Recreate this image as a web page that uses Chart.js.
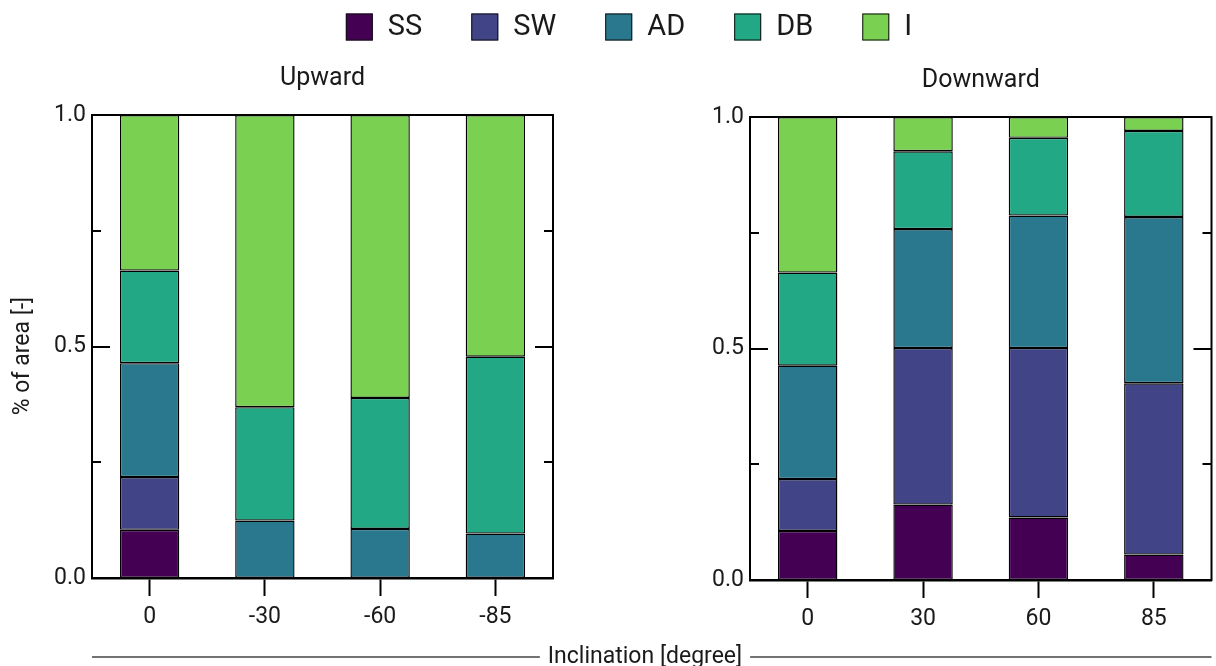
<!DOCTYPE html>
<html>
<head>
<meta charset="utf-8">
<script src="https://cdn.jsdelivr.net/npm/chart.js@4.4.1/dist/chart.umd.min.js"></script>
<style>
  html, body { margin: 0; padding: 0; background: #ffffff; }
  #wrap { position: relative; width: 1216px; height: 666px; }
  #wrap canvas { position: absolute; left: 0; top: 0; }
</style>
</head>
<body>
<div id="wrap">
  <canvas id="upChart" width="1216" height="666"></canvas>
  <canvas id="downChart" width="1216" height="666"></canvas>
</div>
<script>
// ---- data: share of area per failure mode, by inclination ----
const seriesNames  = ['SS', 'SW', 'AD', 'DB', 'I'];
const seriesColors = ['#440154', '#414487', '#2a788e', '#22a884', '#7ad151'];

const upwardCategories = ['0', '-30', '-60', '-85'];
const upwardSS = [0.104, 0.000, 0.000, 0.000];
const upwardSW = [0.114, 0.000, 0.000, 0.000];
const upwardAD = [0.246, 0.124, 0.106, 0.096];
const upwardDB = [0.200, 0.245, 0.283, 0.382];
const upwardI  = [0.336, 0.631, 0.611, 0.522];

const downwardCategories = ['0', '30', '60', '85'];
const downwardSS = [0.106, 0.163, 0.135, 0.055];
const downwardSW = [0.112, 0.338, 0.366, 0.370];
const downwardAD = [0.245, 0.257, 0.286, 0.359];
const downwardDB = [0.201, 0.168, 0.168, 0.186];
const downwardI  = [0.336, 0.074, 0.045, 0.030];

const yMajorTicks = [0, 0.5, 1.0];
const yMinorTicks = [0.25, 0.75];

const FONT = 'Roboto';
const TEXT = '#1a1a1a';

// frame (top + right border) and inward y ticks on both sides
const panelFrame = {
  id: 'panelFrame',
  afterDraw(chart) {
    const { ctx, chartArea: a } = chart;
    const y = chart.scales.y;
    ctx.save();
    ctx.strokeStyle = '#000';
    ctx.lineWidth = 2;
    ctx.beginPath();
    ctx.moveTo(a.left - 1, a.top);
    ctx.lineTo(a.right, a.top);
    ctx.lineTo(a.right, a.bottom + 1);
    ctx.stroke();
    const ticks = yMajorTicks.map(v => [v, 18]).concat(yMinorTicks.map(v => [v, 9]));
    for (const [v, len] of ticks) {
      const py = Math.round(y.getPixelForValue(v));
      ctx.beginPath();
      ctx.moveTo(a.left, py);
      ctx.lineTo(a.left + len, py);
      ctx.moveTo(a.right, py);
      ctx.lineTo(a.right - len, py);
      ctx.stroke();
    }
    ctx.restore();
  }
};

function makeConfig(categories, values, opts) {
  return {
    type: 'bar',
    data: {
      labels: categories,
      datasets: seriesNames.map((name, i) => ({
        label: name,
        data: values[i],
        backgroundColor: seriesColors[i],
        borderColor: '#000000',
        borderWidth: 1.4,
        borderSkipped: false,
        barPercentage: 0.515,
        categoryPercentage: 1.0
      }))
    },
    options: {
      responsive: false,
      animation: false,
      events: [],
      layout: { padding: opts.padding },
      plugins: {
        legend: { display: false },
        tooltip: { enabled: false },
        title: {
          display: true,
          text: opts.title,
          fullSize: false,
          color: TEXT,
          font: { family: FONT, size: 25, weight: 'normal', lineHeight: 1.2 },
          padding: { top: 63.5, bottom: 21.5 }
        }
      },
      scales: {
        x: {
          stacked: true,
          grid: {
            display: true, drawOnChartArea: false, drawTicks: true,
            tickLength: 18, tickWidth: 2, tickColor: '#000', offset: false
          },
          border: { display: true, color: '#000', width: 2.5 },
          ticks: { color: TEXT, font: { family: FONT, size: 23 }, padding: 7, maxRotation: 0 },
          afterFit: s => { s.height = opts.xHeight; }
        },
        y: {
          stacked: true,
          min: 0, max: 1,
          grid: { display: false, drawTicks: false },
          border: { display: true, color: '#000', width: 2 },
          ticks: {
            stepSize: 0.25,
            color: TEXT,
            font: { family: FONT, size: 23 },
            padding: 6,
            callback: v => yMajorTicks.includes(v) ? v.toFixed(1) : ''
          },
          afterFit: s => { s.width = opts.yWidth; }
        }
      }
    },
    plugins: [panelFrame].concat(opts.extra || [])
  };
}

// y-axis title of the left panel
const yTitle = {
  id: 'yTitle',
  afterDraw(chart) {
    const { ctx } = chart;
    ctx.save();
    ctx.fillStyle = TEXT;
    ctx.font = `23px ${FONT}`;
    ctx.textAlign = 'center';
    ctx.textBaseline = 'middle';
    ctx.translate(23, 356);
    ctx.rotate(-Math.PI / 2);
    ctx.fillText('% of area [-]', 0, 0);
    ctx.restore();
  }
};

// shared legend across the top and shared x-axis label with rules
const sharedText = {
  id: 'sharedText',
  afterDraw(chart) {
    const { ctx } = chart;
    const up = Chart.getChart('upChart');
    ctx.save();
    // legend
    const box = 27, gap = 15, itemGap = 49;
    ctx.font = `29px ${FONT}`;
    const widths = seriesNames.map(n => ctx.measureText(n).width);
    const total = widths.reduce((s, w) => s + box + gap + w, 0) + itemGap * (seriesNames.length - 1);
    let x = 629 - total / 2;
    const cy = 27;
    ctx.textBaseline = 'middle';
    ctx.textAlign = 'left';
    seriesNames.forEach((n, i) => {
      ctx.fillStyle = seriesColors[i];
      ctx.fillRect(x, cy - box / 2, box, box);
      ctx.strokeStyle = '#111';
      ctx.lineWidth = 1;
      ctx.strokeRect(x + 0.5, cy - box / 2 + 0.5, box - 1, box - 1);
      ctx.fillStyle = TEXT;
      ctx.fillText(n, x + box + gap, cy + 1);
      x += box + gap + widths[i] + itemGap;
    });
    // x-axis label spanning both panels
    const label = 'Inclination [degree]';
    ctx.font = `23px ${FONT}`;
    const tw = ctx.measureText(label).width;
    const cx = 645, ly = 657;
    ctx.fillStyle = TEXT;
    ctx.textAlign = 'center';
    ctx.fillText(label, cx, ly);
    ctx.strokeStyle = '#444';
    ctx.lineWidth = 1.5;
    ctx.beginPath();
    ctx.moveTo(up.chartArea.left, ly);
    ctx.lineTo(cx - tw / 2 - 8, ly);
    ctx.moveTo(cx + tw / 2 + 8, ly);
    ctx.lineTo(chart.chartArea.right, ly);
    ctx.stroke();
    ctx.restore();
  }
};

new Chart(document.getElementById('upChart'), makeConfig(
  upwardCategories,
  [upwardSS, upwardSW, upwardAD, upwardDB, upwardI],
  { title: 'Upward', padding: { left: 0, right: 663, top: 0, bottom: 0 }, yWidth: 92, xHeight: 88, extra: [yTitle] }
));

new Chart(document.getElementById('downChart'), makeConfig(
  downwardCategories,
  [downwardSS, downwardSW, downwardAD, downwardDB, downwardI],
  { title: 'Downward', padding: { left: 690, right: 4.5, top: 2, bottom: 0 }, yWidth: 60, xHeight: 86, extra: [sharedText] }
));
</script>
</body>
</html>
